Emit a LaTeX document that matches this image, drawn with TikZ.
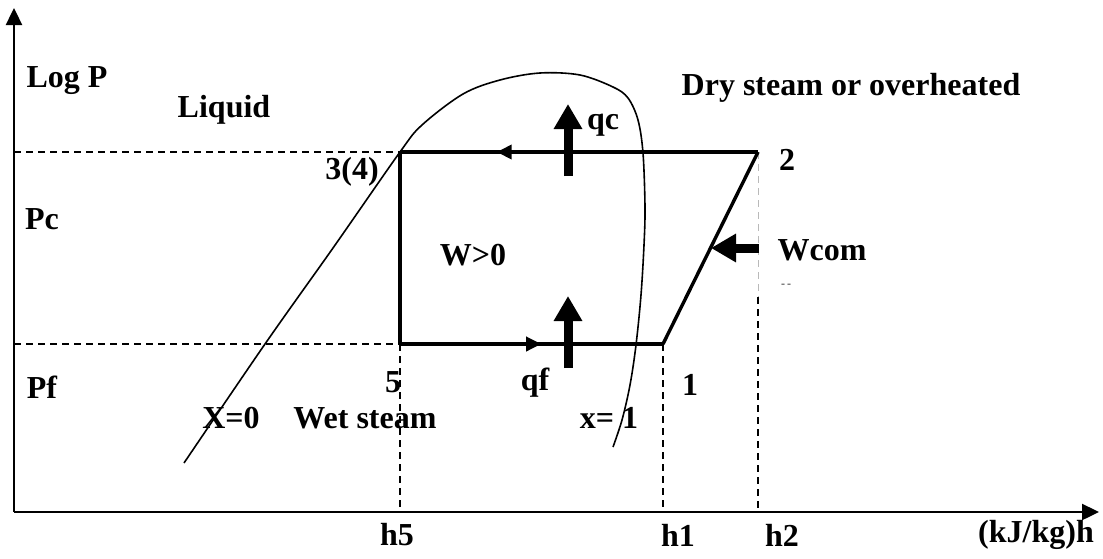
\documentclass[tikz,border=0pt]{standalone}
\usepackage{fontspec}
\setmainfont{Liberation Serif}
\usetikzlibrary{arrows.meta,decorations.markings}
\begin{document}
\begin{tikzpicture}[x=1pt,y=-1pt,
  lbl/.style={font=\fontsize{32}{32}\selectfont\bfseries, inner sep=0pt},
  cyc/.style={line width=3.4pt},
  guide/.style={line width=1.5pt, dash pattern=on 7pt off 5pt},
  axisline/.style={line width=2.4pt, -{Triangle[length=17pt,width=16pt]}},
  heat/.style={line width=9pt, -{Triangle[length=25pt,width=27pt]}},
  dome/.style={line width=1.6pt},
  midarrow/.style={postaction={decorate}, decoration={markings, mark=at position #1 with {\arrow{Triangle[length=15pt,width=14pt]}}}}]
\useasboundingbox (0,0) rectangle (1103,558);
% key points
\coordinate (O) at (14,512);
\coordinate (ytip) at (14,8);
\coordinate (xtip) at (1099,512);
\coordinate (p3) at (400,152);
\coordinate (p2) at (758,152);
\coordinate (p1) at (663,344);
\coordinate (p5) at (400,344);
\coordinate (h5) at (400,512);
\coordinate (h1) at (663,512);
\coordinate (h2) at (758,512);
\coordinate (h2m) at (758,297);
\coordinate (pcL) at (14,152);
\coordinate (pfL) at (14,344);
% dashed guides
\draw[guide] (pcL) -- (p3);
\draw[guide] (pfL) -- (p5);
\draw[guide] (p5) -- (h5);
\draw[guide] (p1) -- (h1);
\draw[guide, gray!55, line width=1pt] (p2) -- (h2m);
\draw[guide] (h2m) -- (h2);
% axes
\draw[axisline] (O) -- (ytip);
\draw[axisline] (O) -- (xtip);
% saturation dome
\draw[dome] plot[smooth, tension=0.55] coordinates {(184,463) (265,344) (333,248) (400,152) (422,125) (463,94) (500,80) (540,73) (580,75) (613,87) (628,98) (638,120) (643,153) (645,207) (644,245) (641,295) (636,345) (630,385) (622,420) (613,447)};
% cycle
\draw[cyc, midarrow=0.73] (p2) -- (p3);
\draw[cyc] (p3) -- (p5);
\draw[cyc, midarrow=0.537] (p5) -- (p1);
\draw[cyc] (p1) -- (p2);
% heat / work arrows
\coordinate (qcb) at (568,176);
\coordinate (qct) at (568,104);
\coordinate (qfb) at (568,368);
\coordinate (qft) at (568,296);
\coordinate (wb) at (759,248);
\coordinate (wt) at (711,248);
\draw[heat] (qcb) -- (qct);
\draw[heat] (qfb) -- (qft);
\draw[heat] (wb) -- (wt);
% labels
\node[lbl] (logp) at (67,81) {Log P};
\node[lbl] (liq) at (224,110) {Liquid};
\node[lbl] (dry) at (851,88) {Dry steam or overheated};
\node[lbl] (qc) at (603,125) {qc};
\node[lbl] (n2) at (787,160) {2};
\node[lbl] (n34) at (352,172) {3(4)};
\node[lbl] (pc) at (42,219) {Pc};
\node[lbl] (w) at (473,255) {W>0};
\node[lbl] (wcom) at (822,250) {Wcom};
\node[font=\fontsize{12}{12}\selectfont, text=black!80, inner sep=0pt] (dd) at (786,286) {-\,-};
\node[lbl] (n5) at (393,382) {5};
\node[lbl] (qf) at (535,383) {qf};
\node[lbl] (n1) at (690,385) {1};
\node[lbl] (pf) at (42,387) {Pf};
\node[lbl] (x0) at (231,418) {X=0};
\node[lbl] (wet) at (365,418) {Wet steam};
\node[lbl] (x1) at (609,418) {x= 1};
\node[lbl] (lh5) at (397,535) {h5};
\node[lbl] (lh1) at (678,535) {h1};
\node[lbl] (lh2) at (782,535) {h2};
\node[lbl] (lh) at (1036,535) {(kJ/kg)h};
\end{tikzpicture}
\end{document}
